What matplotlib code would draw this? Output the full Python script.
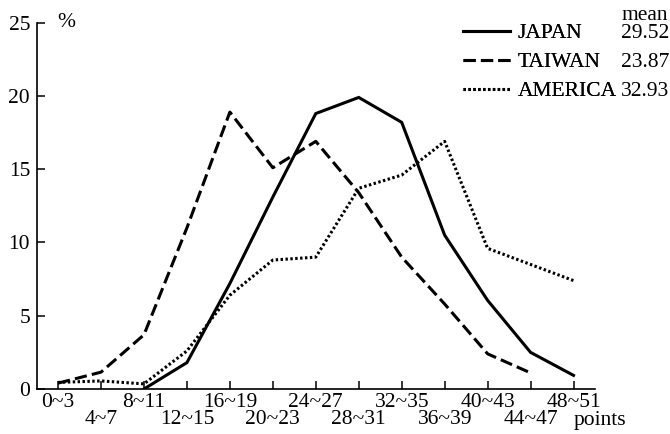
import numpy as np
import matplotlib.pyplot as plt
from matplotlib.lines import Line2D

plt.rcParams['font.family'] = ['Liberation Serif', 'DejaVu Serif']

ranges = ["0~3", "4~7", "8~11", "12~15", "16~19", "20~23", "24~27",
          "28~31", "32~35", "36~39", "40~43", "44~47", "48~51"]
japan = [None, None, 0.0, 1.8, 7.2, 13.1, 18.8, 19.9, 18.2, 10.5, 6.05, 2.5, 0.93]
taiwan = [0.4, 1.15, 3.7, 11.0, 18.9, 15.1, 16.9, 13.4, 9.0, 5.8, 2.4, 1.1, None]
america = [0.45, 0.55, 0.35, 2.6, 6.4, 8.8, 9.0, 13.7, 14.6, 16.9, 9.6, 8.5, 7.4]
countries = ["JAPAN", "TAIWAN", "AMERICA"]
means = ["29.52", "23.87", "32.93"]

FS = 15.5


def as_series(vals):
    return np.array([np.nan if v is None else v for v in vals], dtype=float)


fig = plt.figure(figsize=(6.7, 4.34), dpi=100)
ax = fig.add_axes([37 / 670, 45 / 434, 558 / 670, 366.3 / 434])

x = np.arange(len(ranges))
lw = 2.2
h1, = ax.plot(x, as_series(japan), color='black', lw=lw, solid_joinstyle='miter')
h2, = ax.plot(x, as_series(taiwan), color='black', lw=lw, linestyle=(0, (4, 1.7)))
h3, = ax.plot(x, as_series(america), color='black', lw=lw, linestyle=(0, (0.8, 0.8)))

ax.set_xlim(-0.49, 12.5)
ax.set_ylim(0, 25)
ax.set_yticks([0, 5, 10, 15, 20, 25])
ax.set_xticks(x[::2], labels=ranges[::2])
ax.set_xticks(x[1::2], labels=ranges[1::2], minor=True)

for side in ['top', 'right']:
    ax.spines[side].set_visible(False)
for side in ['left', 'bottom']:
    ax.spines[side].set_linewidth(1.2)

ax.tick_params(axis='both', which='both', direction='in', length=6, width=1.1,
               labelsize=FS, colors='black')
ax.tick_params(axis='x', which='major', pad=3)
ax.tick_params(axis='x', which='minor', pad=15)
ax.tick_params(axis='y', pad=5)

ax.text(0.036, 1.0, "%", transform=ax.transAxes, fontsize=FS, ha='left', va='center')
ax.annotate("points", xy=(1, 0), xycoords='axes fraction', xytext=(3.6, -22.5),
            textcoords='offset points', ha='center', va='center', fontsize=FS)

leg1 = fig.legend([h1, h2, h3], countries, loc='upper left',
                  bbox_to_anchor=(463 / 670, 1 - 23 / 434), frameon=False,
                  fontsize=FS, handlelength=2.2, handletextpad=0.35,
                  labelspacing=0.42, borderpad=0, borderaxespad=0)
blank = [Line2D([], [], linestyle='none') for _ in means]
leg2 = fig.legend(blank, means, loc='upper left',
                  bbox_to_anchor=(621 / 670, 1 - 23 / 434), frameon=False,
                  fontsize=FS, handlelength=0, handletextpad=0,
                  labelspacing=0.42, borderpad=0, borderaxespad=0)
fig.add_artist(leg1)
fig.text(622 / 670, 1 - 15 / 434, "mean", fontsize=FS, ha='left', va='center')

fig.savefig("out.png", dpi=100)
